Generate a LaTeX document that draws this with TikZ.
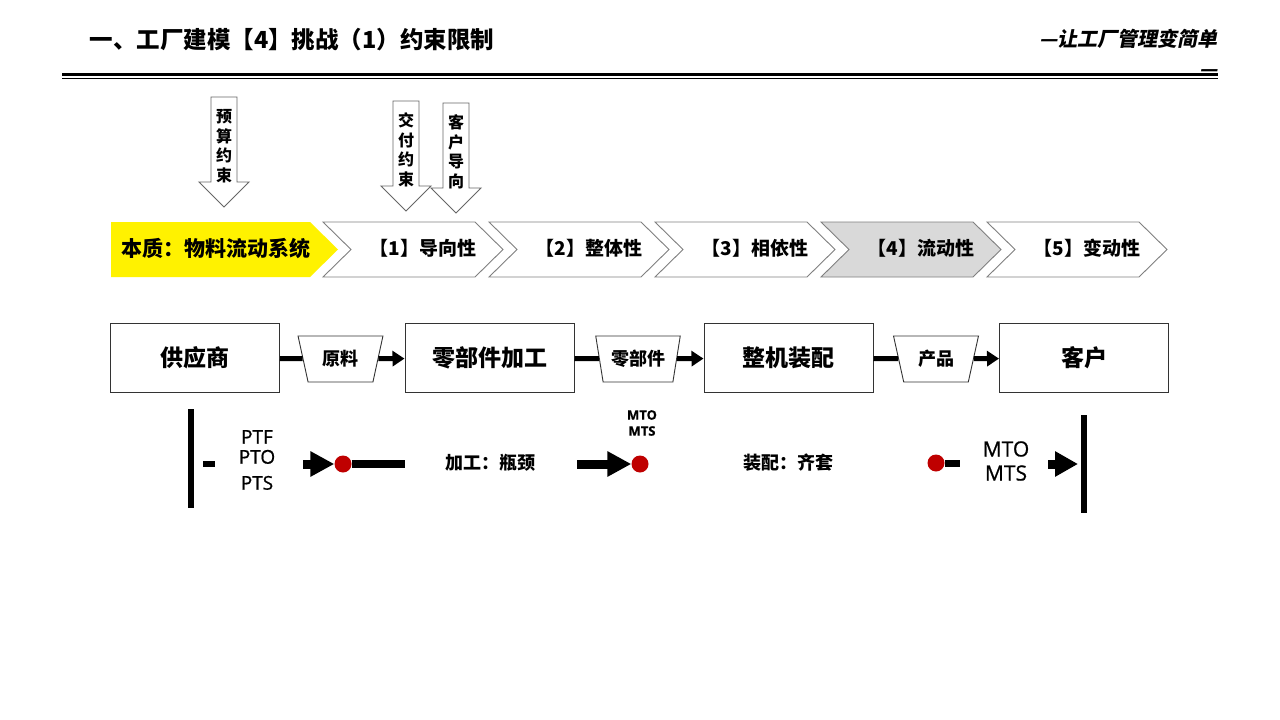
\documentclass[tikz,border=0pt]{standalone}
\usepackage{fontspec}
\setmainfont{Open Sans}
\newfontfamily\cjk{Noto Sans CJK SC}
\newfontfamily\cjkxie{Noto Sans CJK SC}[FakeSlant=0.2]
\newfontfamily\latcu{Open Sans}[FakeBold=0.8]
\usetikzlibrary{arrows.meta,shapes.geometric}
\tikzset{
  biaoti/.style={anchor=west,font={\cjk\bfseries\fontsize{23.5}{26}\selectfont}},
  xiajt/.style={fill=white,draw=black!60,line width=0.9pt},
  xiajtzi/.style={align=center,inner sep=0pt,font={\cjk\bfseries\fontsize{16}{19.5}\selectfont}},
  jiaoxing/.style={draw=black!50,line width=0.9pt},
  jxzi/.style={font={\cjk\bfseries\fontsize{19}{23}\selectfont}},
  kuang/.style={draw=black!80,line width=1pt,minimum width=169pt,minimum height=69pt,
    font={\cjk\bfseries\fontsize{23}{27}\selectfont}},
  tixing/.style={trapezium,trapezium left angle=72,trapezium right angle=72,
    shape border rotate=180,trapezium stretches=true,draw=black!80,fill=white,
    line width=0.9pt,minimum width=85pt,minimum height=46pt,inner sep=0pt,
    font={\cjk\bfseries\fontsize{18}{22}\selectfont}},
  cuxian/.style={line width=5pt},
  liujt/.style={line width=5pt,-{Triangle[length=12pt,width=15pt]}},
  cujt/.style={line width=9pt,-{Triangle[length=24pt,width=24pt]}},
  hongdian/.style={circle,fill=red!75!black,minimum size=17pt,inner sep=0pt},
  shuxian/.style={line width=6pt},
  zhongzi/.style={font={\cjk\bfseries\fontsize{18}{22}\selectfont}},
  latin/.style={align=center,inner sep=0pt,font={\latcu\fontsize{19}{20}\selectfont}}
}
\begin{document}
\begin{tikzpicture}[x=1pt,y=-1pt]
\useasboundingbox (0,0) rectangle (1280,720);
\fill[white] (0,0) rectangle (1280,720);
% header
\node[biaoti] (titulo) at (86,40) {一、工厂建模【4】挑战（1）约束限制};
\node[anchor=north east,align=right,inner sep=0pt,font={\cjkxie\bfseries\fontsize{20}{30}\selectfont}] (lema) at (1218,29) {—让工厂管理变简单\\—};
\draw[line width=2.5pt] (62,74.5) -- (1218,74.5);
\draw[line width=1pt] (62,78.5) -- (1218,78.5);
% constraints
\foreach \xl/\yt/\txt [count=\i] in {211/97/{预\\算\\约\\束}, 393/101/{交\\付\\约\\束}, 443/103/{客\\户\\导\\向}} {
  \draw[xiajt] (\xl,\yt) -- ++(26,0) -- ++(0,85) -- ++(12,0) -- ++(-25,25) -- ++(-25,-25) -- ++(12,0) -- cycle;
  \node[xiajtzi] (yueshu\i) at (\xl+13,\yt+49) {\txt};
}
% chevrons
\fill[yellow] (111,222) -- (310,222) -- (338,249.5) -- (310,277) -- (111,277) -- cycle;
\node[jxzi,font={\cjk\bfseries\fontsize{21}{24}\selectfont}] (benzhi) at (216,248) {本质：物料流动系统};
\foreach \x/\txt/\fc [count=\i] in {323/【1】导向性/white, 489/【2】整体性/white, 655/【3】相依性/white, 821/【4】流动性/gray!30, 987/【5】变动性/white} {
  \draw[jiaoxing,fill=\fc] (\x,222) -- ++(152,0) -- ++(28,27.5) -- ++(-28,27.5) -- ++(-152,0) -- ++(28,-27.5) -- cycle;
  \node[jxzi] (jx\i) at (\x+100,248) {\txt};
}
% process
\node[kuang] (gys) at (195,358) {供应商};
\node[kuang] (ljjg) at (489.5,358) {零部件加工};
\node[kuang] (zjzp) at (788.5,358) {整机装配};
\node[kuang] (kehu) at (1084,358) {客户};
\node[tixing] (yl) at (340.5,359) {原料};
\node[tixing] (ljj) at (638,359) {零部件};
\node[tixing] (cp) at (936,359) {产品};
\draw[cuxian] (gys) -- (yl);
\draw[liujt] (yl) -- (ljjg);
\draw[cuxian] (ljjg) -- (ljj);
\draw[liujt] (ljj) -- (zjzp);
\draw[cuxian] (zjzp) -- (cp);
\draw[liujt] (cp) -- (kehu);
% flow
\draw[shuxian] (190.5,409) -- (190.5,508);
\draw[line width=6pt] (203,464) -- (215,464);
\node[latin] (ptx) at (257,460) {PTF\\PTO\\[6pt]PTS};
\coordinate (a1s) at (303,464);
\node[hongdian] (d1) at (343,464) {};
\draw[cujt] (a1s) -- (d1.west);
\coordinate (l1e) at (405,464);
\draw[line width=8pt] (d1.east) -- (l1e);
\node[zhongzi] (jiagong) at (490,463) {加工：瓶颈};
\coordinate (a2s) at (577,464);
\node[hongdian] (d2) at (640,464) {};
\draw[cujt] (a2s) -- (d2.west);
\node[latin,font={\latcu\bfseries\fontsize{13}{16}\selectfont}] (mto1) at (642,423) {MTO\\MTS};
\node[zhongzi] (zhuangpei) at (788,463) {装配：齐套};
\node[hongdian] (d3) at (936,463) {};
\coordinate (l3e) at (960,463);
\draw[line width=7pt] (d3.east) -- (l3e);
\node[latin,font={\latcu\fontsize{21}{24}\selectfont}] (mto2) at (1006,461) {MTO\\MTS};
\coordinate (a3s) at (1048,464);
\coordinate (a3e) at (1078,464);
\draw[cujt,-{Triangle[length=23pt,width=24pt]}] (a3s) -- (a3e);
\draw[shuxian] (1083.5,415) -- (1083.5,513);
\end{tikzpicture}
\end{document}
